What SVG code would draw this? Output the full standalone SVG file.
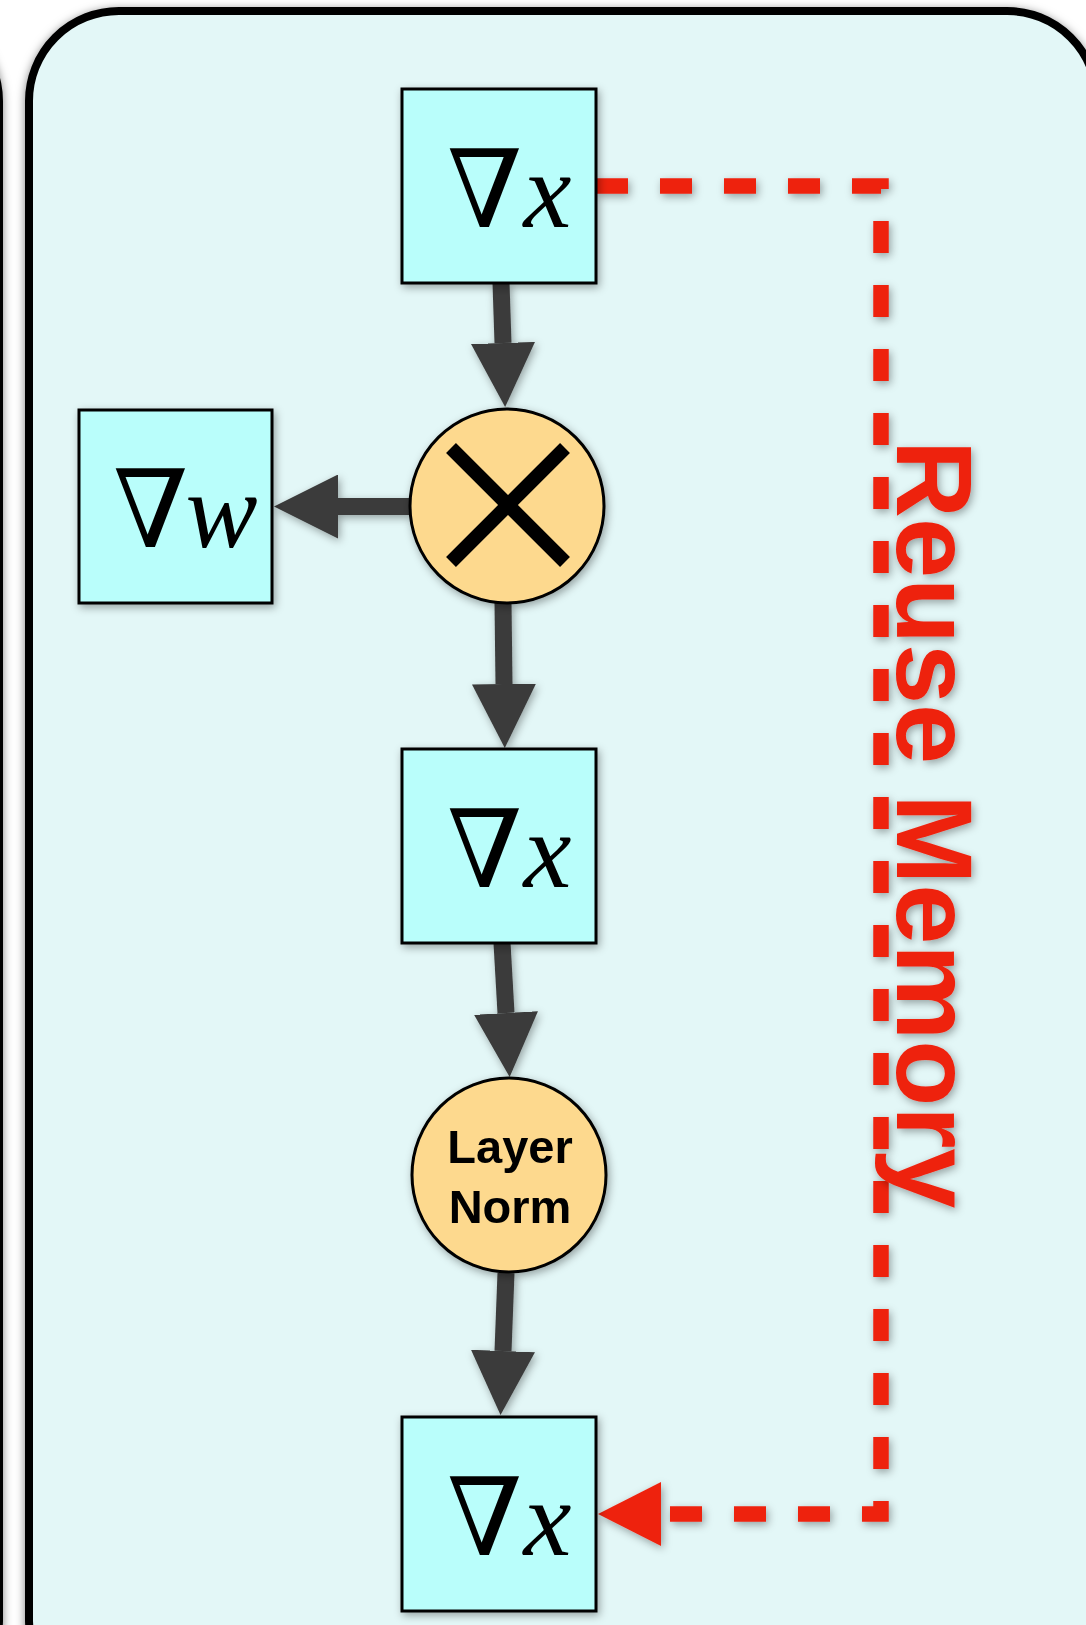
<svg xmlns="http://www.w3.org/2000/svg" width="1086" height="1625" viewBox="0 0 1086 1625">
<style>
.panel{fill:#e3f7f7;stroke:#000;stroke-width:8}
.box{fill:#b9fefb;stroke:#000;stroke-width:3}
.op{fill:#fdd98e;stroke:#000;stroke-width:3}
.math{font-family:"Liberation Serif","DejaVu Serif",serif;font-size:108px;fill:#000}
.it{font-style:italic}
.lbl{font-family:"Liberation Sans",Arial,sans-serif;font-weight:bold;font-size:47px;fill:#000;text-anchor:middle}
.arrow{stroke:#3a3a3a;stroke-width:17;fill:none;marker-end:url(#head)}
.reuse{stroke:#ee2211;stroke-width:15.5;fill:none;stroke-dasharray:32 32;stroke-linejoin:miter}
.rtext{font-family:"Liberation Sans",Arial,sans-serif;font-weight:bold;font-size:108px;fill:#ee2211}
</style>
<defs>
<filter id="sh" x="-20%" y="-20%" width="140%" height="140%">
<feDropShadow dx="2" dy="3" stdDeviation="4" flood-color="#000" flood-opacity="0.35"/>
</filter>
<filter id="psh" x="-10%" y="-10%" width="120%" height="120%">
<feDropShadow dx="0" dy="2" stdDeviation="5" flood-color="#000" flood-opacity="0.5"/>
</filter>
<marker id="head" markerUnits="userSpaceOnUse" markerWidth="64" markerHeight="64" refX="0" refY="32" orient="auto">
<path d="M0,0 L64,32 L0,64 z" fill="#3a3a3a"/>
</marker>
</defs>
<rect width="1086" height="1625" fill="#fff"/>
<g id="panel-left"><rect class="panel" x="-1000" y="11" width="999" height="1700" rx="90" filter="url(#psh)"/></g>
<g id="panel-main"><rect class="panel" x="29" y="11" width="1068" height="1700" rx="90" filter="url(#psh)"/></g>
<g id="connectors" filter="url(#sh)">
<line class="arrow" x1="501" y1="283" x2="503" y2="343"/>
<line class="arrow" x1="503" y1="603" x2="504" y2="684"/>
<line class="arrow" x1="502" y1="943" x2="506" y2="1013"/>
<line class="arrow" x1="506" y1="1273" x2="503" y2="1351"/>
<line class="arrow" x1="409" y1="506.5" x2="338" y2="506.5"/>
<path class="reuse" d="M596,186 H881 V1514 H661"/>
<polygon points="598,1514 661,1482 661,1546" fill="#ee2211"/>
</g>
<g id="node-gradx-top" filter="url(#sh)">
<rect class="box" x="402" y="89" width="194" height="194"/>
<text class="math" x="447" y="227">∇<tspan class="it" dx="1">x</tspan></text>
</g>
<g id="node-gradw" filter="url(#sh)">
<rect class="box" x="79" y="410" width="193" height="193"/>
<text class="math" x="113" y="547">∇<tspan class="it" dx="-3">w</tspan></text>
</g>
<g id="node-mul" filter="url(#sh)">
<circle class="op" cx="507" cy="506" r="97"/>
<path d="M451,448 L565,562 M565,448 L451,562" stroke="#000" stroke-width="14"/>
</g>
<g id="node-gradx-mid" filter="url(#sh)">
<rect class="box" x="402" y="749" width="194" height="194"/>
<text class="math" x="447" y="887">∇<tspan class="it" dx="1">x</tspan></text>
</g>
<g id="node-layernorm" filter="url(#sh)">
<circle class="op" cx="509" cy="1175" r="97"/>
<text class="lbl" x="510" y="1163">Layer</text>
<text class="lbl" x="510" y="1223">Norm</text>
</g>
<g id="node-gradx-bot" filter="url(#sh)">
<rect class="box" x="402" y="1417" width="194" height="194"/>
<text class="math" x="447" y="1555">∇<tspan class="it" dx="1">x</tspan></text>
</g>
<g id="label-reuse" filter="url(#sh)">
<text class="rtext" transform="translate(897,440) rotate(90)">Reuse Memory</text>
</g>
</svg>
